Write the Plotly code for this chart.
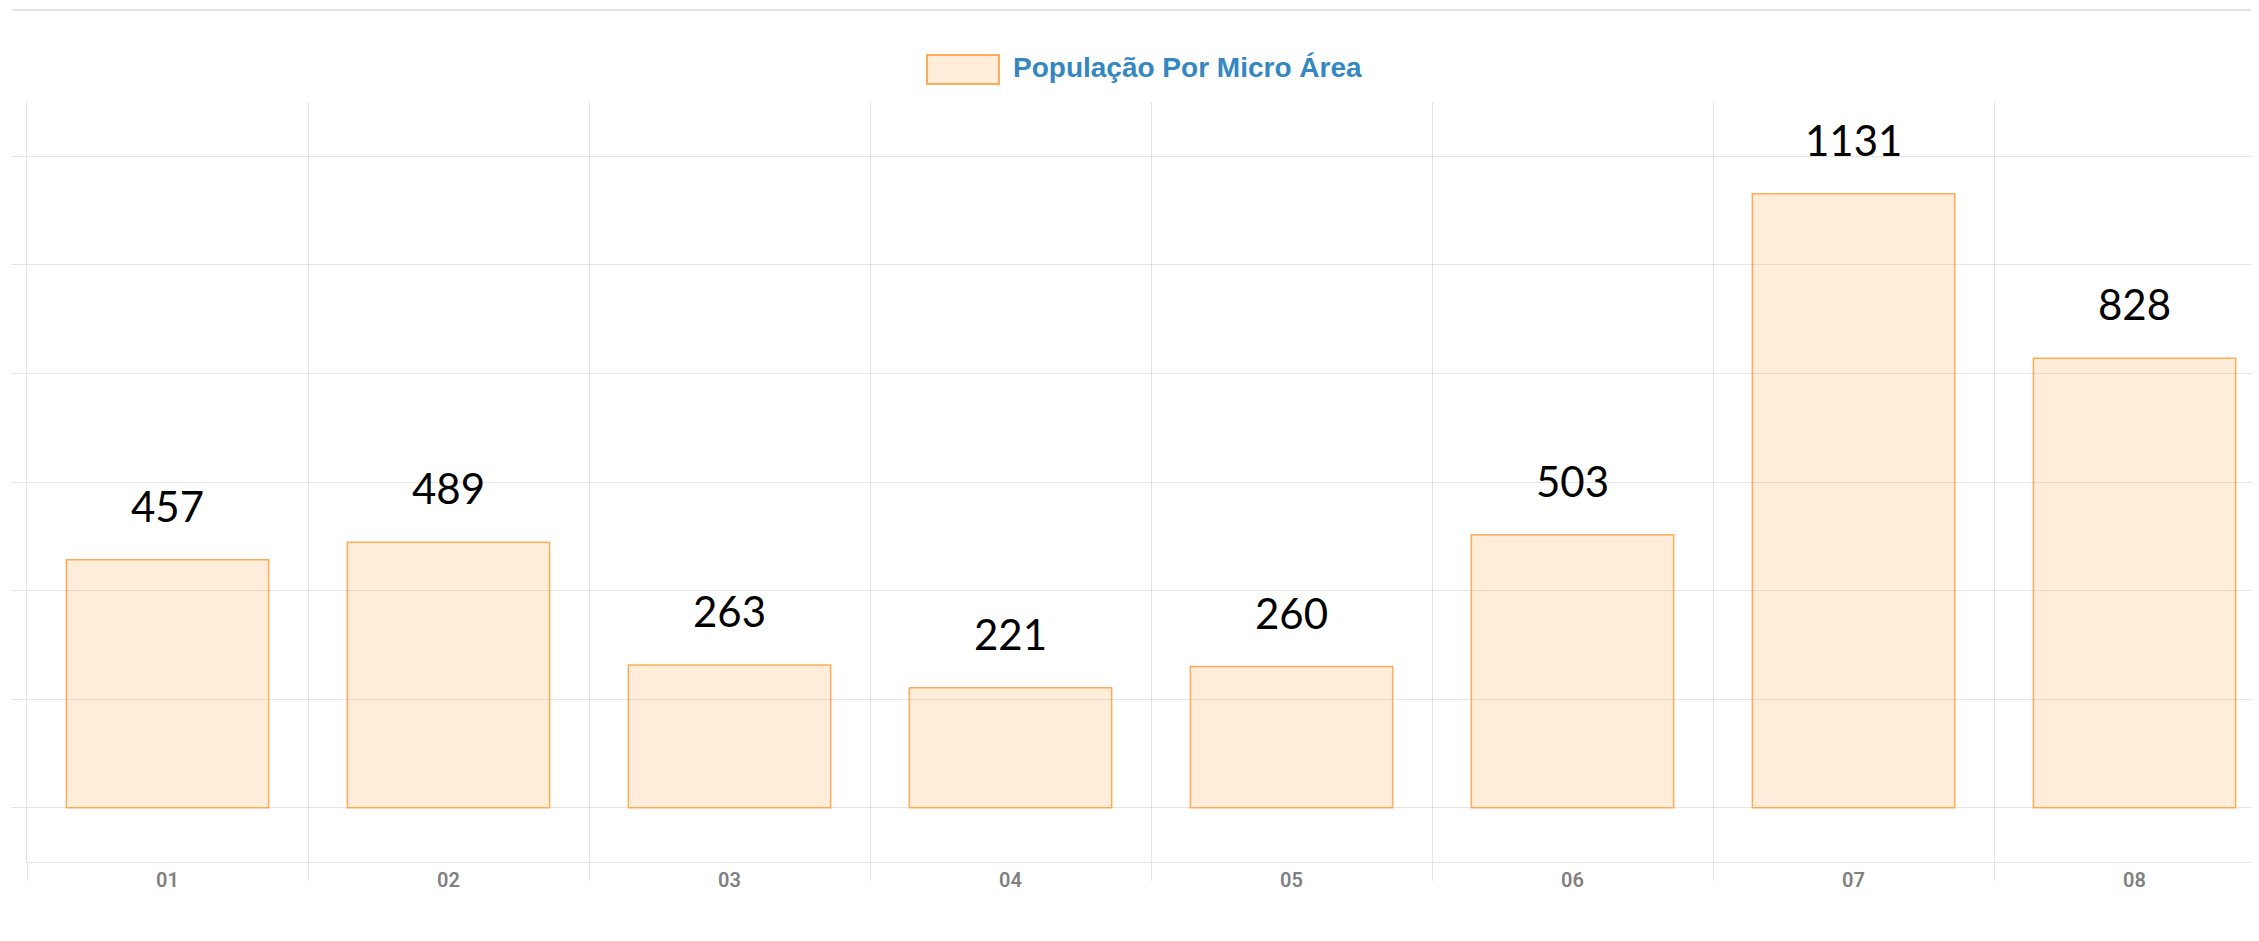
import plotly.graph_objects as go

categories = ["01", "02", "03", "04", "05", "06", "07", "08"]
values = [457, 489, 263, 221, 260, 503, 1131, 828]
series_name = "População Por Micro Área"

OFF = 8  # page body margin
W, H = 2259 - OFF, 941 - OFF
ML, MR, MT, MB = 27 - OFF, 0, 102 - OFF, 79
grid = "rgba(0,0,0,0.1)"

fig = go.Figure()
fig.add_trace(go.Bar(
    x=categories, y=values, name=series_name,
    marker=dict(color="rgba(255,159,64,0.2)",
                line=dict(color="rgba(255,159,64,0.85)", width=1.5)),
    width=0.72, showlegend=False, hoverinfo="x+y",
))

for i, v in enumerate(values):
    fig.add_annotation(x=i, y=v, text=str(v), showarrow=False,
                       yanchor="bottom", yshift=27,
                       font=dict(family="Lato", size=42, color="#000000"))

# legend (drawn), coordinates given in page pixels
pw, ph = W - ML - MR, H - MT - MB
def px(x): return (x - OFF - ML) / pw
def py(y): return (H - MB - (y - OFF)) / ph
fig.add_shape(type="rect", xref="paper", yref="paper",
              x0=px(927), x1=px(999), y0=py(84), y1=py(55),
              fillcolor="rgba(255,159,64,0.2)",
              line=dict(color="rgba(255,159,64,0.85)", width=2))
fig.add_annotation(xref="paper", yref="paper", x=px(1011), y=py(68),
                   xanchor="left", yanchor="middle", showarrow=False,
                   text="<b>" + series_name + "</b>",
                   font=dict(family="Liberation Sans", size=28, color="#3487c0"))
# top separator line
fig.add_shape(type="line", xref="paper", yref="paper",
              x0=px(12), x1=1.0, y0=py(10), y1=py(10),
              line=dict(color="rgba(0,0,0,0.1)", width=2))

fig.update_layout(
    width=W, height=H,
    margin=dict(l=ML, r=MR, t=MT, b=MB, pad=0),
    plot_bgcolor="white", paper_bgcolor="white",
    bargap=0.28,
)
fig.update_xaxes(
    type="category", range=[-0.5, 7.443],
    tickson="boundaries", ticks="outside", ticklen=18, tickcolor=grid, tickwidth=1,
    showgrid=True, gridcolor=grid, gridwidth=1,
    showline=True, linecolor=grid, linewidth=1,
    tickfont=dict(family="Roboto", size=20, color="#808080", weight=600),
)
fig.update_yaxes(
    range=[-100, 1300], tick0=0, dtick=200,
    showticklabels=False, ticks="outside", ticklen=15, tickcolor=grid,
    showgrid=True, gridcolor=grid, gridwidth=1,
    zeroline=True, zerolinecolor=grid, zerolinewidth=1,
    showline=True, linecolor=grid, linewidth=1,
)

fig.write_html("out.html")
